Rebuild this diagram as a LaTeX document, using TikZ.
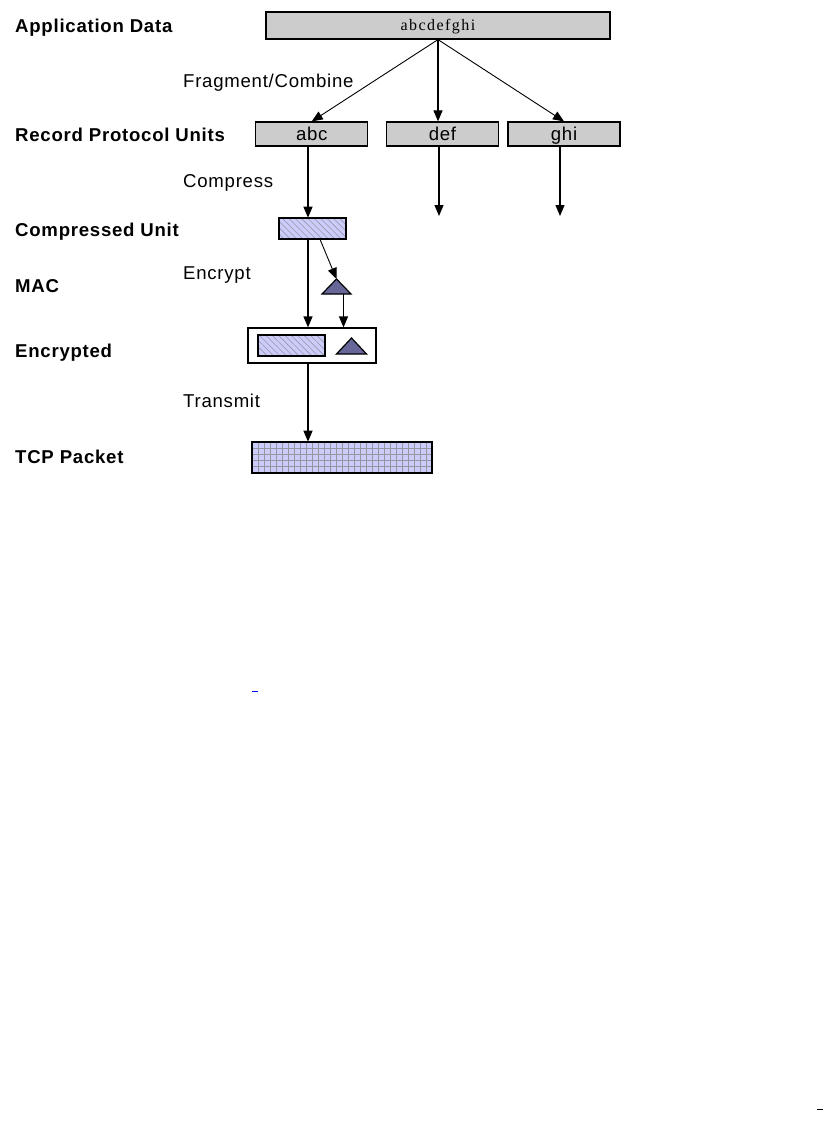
\documentclass[tikz,border=0pt]{standalone}
\usepackage{fontspec}
\setmainfont{Liberation Sans}
\newfontfamily\labfont[LetterSpace=4]{Liberation Sans}
\newfontfamily\datfont[LetterSpace=9]{Liberation Serif}
\usetikzlibrary{arrows.meta,patterns.meta,calc}
\definecolor{boxgray}{RGB}{204,204,204}
\definecolor{lilac}{RGB}{204,204,250}
\definecolor{hatchline}{RGB}{150,150,170}
\definecolor{macblue}{RGB}{102,102,153}
\definecolor{gridline}{RGB}{150,150,160}

\begin{document}
\begin{tikzpicture}[x=1pt,y=-1pt,
	every node/.style={inner sep=0pt},
	stage/.style={anchor=base west,font=\labfont\bfseries\fontsize{18.6}{20}\selectfont},
	oplabel/.style={anchor=base west,font=\labfont\fontsize{18.6}{20}\selectfont},
	unit/.style={draw,line width=1.2pt,fill=boxgray,minimum width=112pt,minimum height=24pt,
		text height=13.3pt,text depth=0pt,font=\labfont\fontsize{18.6}{20}\selectfont},
	hatched/.style={draw,line width=1.2pt,preaction={fill=lilac},minimum width=67pt,minimum height=21pt,
		pattern={Lines[angle=-45,distance=4.5pt,line width=0.6pt]},pattern color=hatchline},
	macshape/.style={draw,line width=1.2pt,fill=macblue,line join=miter},
	flow/.style={-{Triangle[length=11pt,width=9pt]},line width=1.2pt}]
	\useasboundingbox (0,0) rectangle (824,1126);
	% stage names
	\node[stage] (lapp) at (15,32.5) {Application Data};
	\node[stage] (lrpu) at (15,141.5) {Record Protocol Units};
	\node[stage] (lcu) at (15,236) {Compressed Unit};
	\node[stage] (lmac) at (15,292.5) {MAC};
	\node[stage] (lenc) at (15,357) {Encrypted};
	\node[stage] (ltcp) at (15,463) {TCP Packet};
	\node[oplabel] (lfrag) at (183,87.7) {Fragment/Combine};
	\node[oplabel] (lcomp) at (183,188) {Compress};
	\node[oplabel] (lencr) at (183,279.5) {Encrypt};
	\node[oplabel] (ltrans) at (183,407) {Transmit};
	% units
	\node[unit,minimum width=344pt,minimum height=27pt,text height=10.5pt,
		font=\datfont\fontsize{16}{17}\selectfont] (appdata) at (438,25.5) {abcdefghi};
	\node[unit] (abc) at (311.75,134) {abc};
	\node[unit] (def) at (442.5,134) {def};
	\node[unit] (ghi) at (564,134) {ghi};
	\node[hatched] (cunit) at (312.5,228.5) {};
	\coordinate (mac) at (336.5,279);
	\draw[macshape] (mac) -- ++(14.5,15) -- ++(-29,0) -- cycle;
	\node[draw,line width=1.2pt,fill=white,minimum width=128pt,minimum height=35pt] (enc) at (312,345.5) {};
	\node[hatched] (encdata) at (291.5,345.5) {};
	\coordinate (encmac) at (351.5,338);
	\draw[macshape] (encmac) -- ++(15,16) -- ++(-30,0) -- cycle;
	\node[draw,line width=1.2pt,preaction={fill=lilac},minimum width=180pt,minimum height=31pt,
		pattern={Hatch[angle=0,distance=6pt,line width=0.6pt]},pattern color=gridline] (tcp) at (342,457.5) {};
	% connectors
	\coordinate (axis) at (308,0);
	\coordinate (defend) at (439,216);
	\coordinate (ghiend) at (560,216);
	\coordinate (macfoot) at (343.5,294);
	\draw[flow,line width=0.9pt] (appdata.south) -- (abc.north);
	\draw[flow] (appdata.south) -- (appdata.south |- def.north);
	\draw[flow,line width=0.9pt] (appdata.south) -- (ghi.north);
	\draw[flow] (def.south -| defend) -- (defend);
	\draw[flow] (ghi.south -| ghiend) -- (ghiend);
	\draw[flow] (abc.south -| axis) -- (cunit.north -| axis);
	\draw[flow] (cunit.south -| axis) -- (enc.north -| axis);
	\draw[flow] (enc.south -| axis) -- (tcp.north -| axis);
	\draw[flow,line width=0.9pt] ([xshift=7.5pt]cunit.south) -- (mac);
	\draw[flow] (macfoot) -- (enc.north -| macfoot);
	% stray marks
	\draw[blue,line width=1pt] (252,691) -- (258,691);
	\draw[line width=1pt] (817,1109) -- (823,1109);
\end{tikzpicture}
\end{document}
